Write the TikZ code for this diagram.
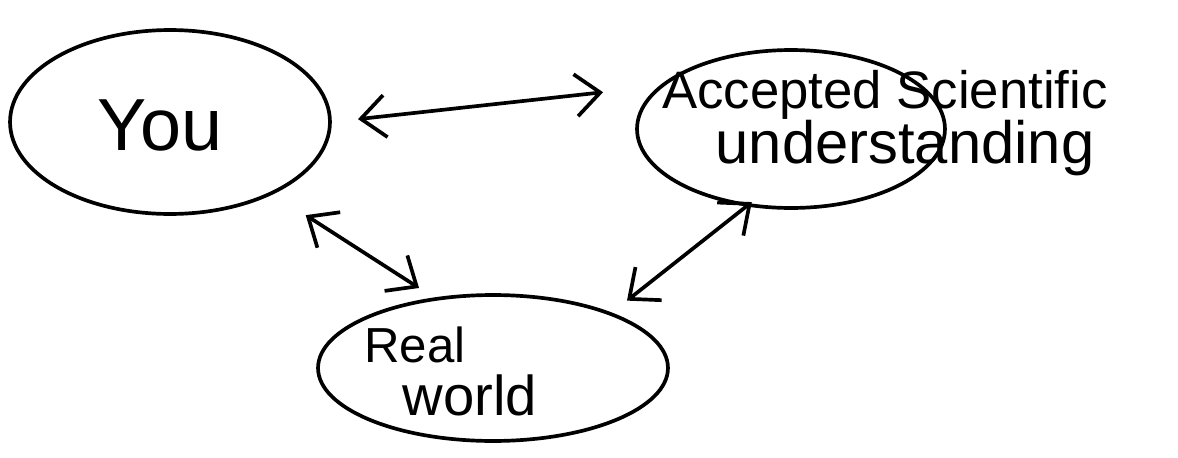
\documentclass[tikz,border=0pt]{standalone}
\usepackage{fontspec}
\setmainfont{Liberation Sans}
\usetikzlibrary{shapes.geometric,arrows.meta}

\begin{document}
\begin{tikzpicture}[x=0.02cm,y=-0.02cm,
    blob/.style={ellipse, draw, line width=2.1pt, inner sep=0pt},
    dbl/.style={line width=2.1pt, {Straight Barb[length=14pt,width=24pt]}-{Straight Barb[length=14pt,width=24pt]}},
    txt/.style={font=\fontsize{30}{32}\selectfont, inner sep=0pt}]
    \useasboundingbox (0,0) rectangle (1178,457);
    \node[blob, minimum width=6.4cm, minimum height=3.68cm] (you) at (170,122) {};
    \node[blob, minimum width=6.16cm, minimum height=3.16cm] (acc) at (791,129) {};
    \node[blob, minimum width=7cm, minimum height=2.92cm] (real) at (493,368) {};
    \node[txt, font=\fontsize{42}{44}\selectfont] (youtxt) at (160,125) {You};
    \node[txt] (acctxt) at (885,95) {Accepted Scientific};
    \node[txt, font=\fontsize{34}{36}\selectfont] (undtxt) at (905,148) {understanding};
    \node[txt, font=\fontsize{28}{30}\selectfont] (realtxt) at (415,345) {Real};
    \node[txt, font=\fontsize{32}{34}\selectfont] (worldtxt) at (470,395) {world};
    \draw[dbl, shorten <=15pt, shorten >=32pt] (you.east) -- (acc.162);
    \draw[dbl, shorten <=22pt, shorten >=10pt] (you.-35) -- (real.130);
    \draw[dbl, shorten <=11pt, shorten >=-4pt] (real.25) -- (acc.-120);
\end{tikzpicture}
\end{document}
